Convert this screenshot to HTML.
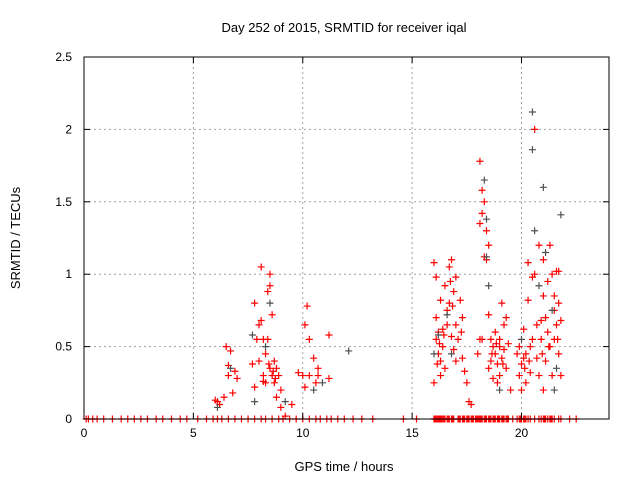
<!DOCTYPE html>
<html><head><meta charset="utf-8"><style>
body{margin:0;background:#fff}
svg{display:block;font-family:"Liberation Sans",sans-serif}
</style></head><body>
<svg id="chart" width="640" height="480" viewBox="0 0 640 480">
<rect width="640" height="480" fill="#fff"/>
<g id="grid"></g><g id="marks"></g><g id="axes"></g>
<text x="344" y="32" font-size="13" text-anchor="middle">Day 252 of 2015, SRMTID for receiver iqal</text>
<text x="344" y="471" font-size="13" text-anchor="middle">GPS time / hours</text>
<text transform="translate(20,238) rotate(-90)" font-size="13" text-anchor="middle">SRMTID / TECUs</text>
</svg>
<script>
const xTicks=[0,5,10,15,20];
const yTicks=[0,0.5,1,1.5,2,2.5];
const yTickLabels=["0","0.5","1","1.5","2","2.5"];
const redPoints=[[6.0,0.13],[6.1,0.12],[6.2,0.1],[6.5,0.5],[6.6,0.37],[6.7,0.47],[6.6,0.3],[6.8,0.18],[6.9,0.33],[7.0,0.28],[6.4,0.15],[7.7,0.38],[7.8,0.8],[7.8,0.22],[7.9,0.55],[8.0,0.65],[8.1,1.05],[8.1,0.68],[8.2,0.55],[8.2,0.3],[8.3,0.25],[8.3,0.45],[8.4,0.88],[8.4,0.55],[8.5,0.92],[8.5,1.0],[8.5,0.35],[8.6,0.72],[8.6,0.3],[8.7,0.4],[8.7,0.25],[8.8,0.35],[8.8,0.15],[8.9,0.3],[9.0,0.2],[9.0,0.08],[9.2,0.02],[9.5,0.1],[8.0,0.4],[8.2,0.26],[8.45,0.38],[8.65,0.33],[8.75,0.28],
[9.8,0.32],[10.0,0.3],[10.1,0.65],[10.2,0.78],[10.3,0.55],[10.3,0.3],[10.5,0.42],[10.6,0.25],[10.7,0.3],[10.7,0.35],[11.2,0.58],[11.2,0.28],[10.1,0.22],
[16.0,0.25],[16.0,1.08],[16.1,0.98],[16.1,0.7],[16.1,0.55],[16.2,0.45],[16.2,0.6],[16.3,0.82],[16.3,0.4],[16.4,0.62],[16.4,0.5],[16.5,0.92],[16.5,0.35],[16.6,0.65],[16.6,0.75],[16.7,1.05],[16.7,0.8],[16.8,1.1],[16.8,0.57],[16.9,0.88],[16.9,0.48],[17.0,0.65],[17.0,0.98],[17.1,0.55],[17.2,0.82],[17.3,0.7],[17.3,0.42],[17.4,0.33],[17.6,0.12],[17.7,0.1],[17.5,0.25],[17.0,0.4],[16.3,0.3],[16.15,0.38],[16.25,0.52],[16.45,0.58],[16.75,0.95],[16.85,0.78],[17.25,0.6],
[18.0,0.45],[18.1,0.55],[18.1,1.78],[18.1,1.35],[18.2,1.58],[18.2,1.42],[18.3,1.5],[18.3,1.12],[18.4,1.3],[18.4,1.1],[18.5,1.2],[18.5,0.72],[18.5,0.35],[18.6,0.55],[18.6,0.4],[18.7,0.5],[18.7,0.28],[18.8,0.45],[18.8,0.6],[18.9,0.38],[18.9,0.25],[19.0,0.5],[19.0,0.3],[19.1,0.42],[19.1,0.8],[19.2,0.65],[19.2,0.48],[19.3,0.35],[19.4,0.52],[19.3,0.7],[19.5,0.2],[18.2,0.55],[19.0,0.55],[18.65,0.45],[18.85,0.52],[19.15,0.38],
[19.8,0.45],[19.9,0.3],[19.9,0.5],[20.0,0.2],[20.0,0.38],[20.1,0.42],[20.1,0.62],[20.2,0.25],[20.2,0.45],[20.3,0.82],[20.3,1.08],[20.4,0.5],[20.4,0.32],[20.5,0.98],[20.5,0.55],[20.6,1.0],[20.6,2.0],[20.7,0.65],[20.7,0.42],[20.8,0.3],[20.8,1.2],[20.9,0.68],[20.9,0.55],[21.0,0.85],[21.0,0.2],[21.1,0.4],[21.1,0.7],[21.2,0.95],[21.2,0.6],[21.3,1.2],[21.3,0.5],[21.4,1.0],[21.4,0.3],[21.5,0.85],[21.5,0.55],[21.6,1.02],[21.6,0.65],[21.7,0.8],[21.7,0.45],[21.7,1.02],[21.8,0.68],[21.8,0.3],[21.0,1.1],[21.5,0.75],[20.15,0.35],[20.35,0.4],[20.95,0.45],[21.25,0.5],[21.65,0.55]];
const grayPoints=[[6.1,0.08],[6.7,0.35],[7.7,0.58],[7.8,0.12],[8.5,0.8],[9.2,0.12],[10.5,0.2],[12.1,0.47],[16.0,0.45],[16.2,0.58],[16.6,0.72],[18.3,1.65],[18.4,1.12],[18.5,0.92],[18.4,1.38],[19.0,0.2],[20.5,2.12],[20.5,1.86],[20.6,1.3],[20.8,0.92],[21.0,1.6],[21.1,1.15],[21.4,0.75],[21.5,0.2],[21.8,1.41],[21.6,0.35],[20.0,0.55],[16.8,0.45],[8.3,0.5],[10.9,0.25]];
const zeroTimes=[0.1,0.2,0.4,0.6,0.9,1.3,1.7,2.0,2.3,2.6,2.9,3.3,3.6,4.0,4.4,4.7,5.2,5.6,5.9,6.1,6.3,6.6,6.9,7.2,7.5,7.8,8.1,8.3,8.6,8.9,9.1,9.4,9.7,10.0,10.3,10.6,10.8,11.1,11.3,11.6,11.9,12.3,12.7,13.2,14.6,15.2,16.0,16.05,16.1,16.15,16.2,16.25,16.3,16.35,16.4,16.45,16.5,16.6,16.65,16.7,16.8,16.85,16.9,17.1,17.15,17.2,17.3,17.35,17.4,17.5,17.55,17.6,17.7,17.75,17.8,17.9,17.95,18.0,18.05,18.1,18.15,18.2,18.3,18.35,18.4,18.5,18.55,18.6,18.7,18.75,18.8,18.9,18.95,19.0,19.1,19.15,19.2,19.3,19.35,19.4,19.6,19.8,19.9,19.95,20.0,20.1,20.15,20.2,20.3,20.4,20.6,20.8,20.9,21.0,21.05,21.1,21.2,21.3,21.35,21.4,21.5,21.7,21.8,22.2,22.5];
const L=84,R=609,T=57,B=419;
const xs=v=>L+(R-L)*v/24, ys=v=>B-(B-T)*v/2.5;
const NS="http://www.w3.org/2000/svg";
function mk(tag,attrs,parent){const e=document.createElementNS(NS,tag);for(const k in attrs)e.setAttribute(k,attrs[k]);parent.appendChild(e);return e;}
const grid=document.getElementById('grid'),marks=document.getElementById('marks'),axes=document.getElementById('axes');
xTicks.forEach(v=>{
 if(v>0){const g=mk('line',{x1:xs(v),x2:xs(v),y1:T,y2:B,stroke:'#a0a0a0','stroke-dasharray':'2,3'},grid);
 
 }
 mk('line',{x1:xs(v),x2:xs(v),y1:B,y2:B-6,stroke:'#000'},axes);
 mk('line',{x1:xs(v),x2:xs(v),y1:T,y2:T+6,stroke:'#000'},axes);
 const t=mk('text',{x:xs(v),y:B+18,'font-size':12,'text-anchor':'middle'},axes);t.textContent=String(v);
 
 
});
yTicks.forEach((v,i)=>{
 if(v>0&&v<2.5){const g=mk('line',{x1:L,x2:R,y1:ys(v),y2:ys(v),stroke:'#a0a0a0','stroke-dasharray':'2,3'},grid);
 
 }
 mk('line',{x1:L,x2:L+6,y1:ys(v),y2:ys(v),stroke:'#000'},axes);
 mk('line',{x1:R,x2:R-6,y1:ys(v),y2:ys(v),stroke:'#000'},axes);
 const t=mk('text',{x:L-12,y:ys(v)+4,'font-size':12,'text-anchor':'end'},axes);t.textContent=yTickLabels[i];
 
 
});
const frame=mk('rect',{x:L,y:T,width:R-L,height:B-T,fill:'none',stroke:'#000'},axes);


function plus(x,y,c,name){
 const p=mk('path',{d:`M${x-3.5},${y}h7M${x},${y-3.5}v7`,stroke:c,'stroke-width':1.2,fill:'none'},marks);
 
 
}
zeroTimes.forEach(t=>plus(xs(t),ys(0),'#ff0000','zero-point'));
redPoints.forEach(d=>plus(xs(d[0]),ys(d[1]),'#ff0000','red-point'));
grayPoints.forEach(d=>plus(xs(d[0]),ys(d[1]),'#505050','gray-point'));
</script>
</body></html>
